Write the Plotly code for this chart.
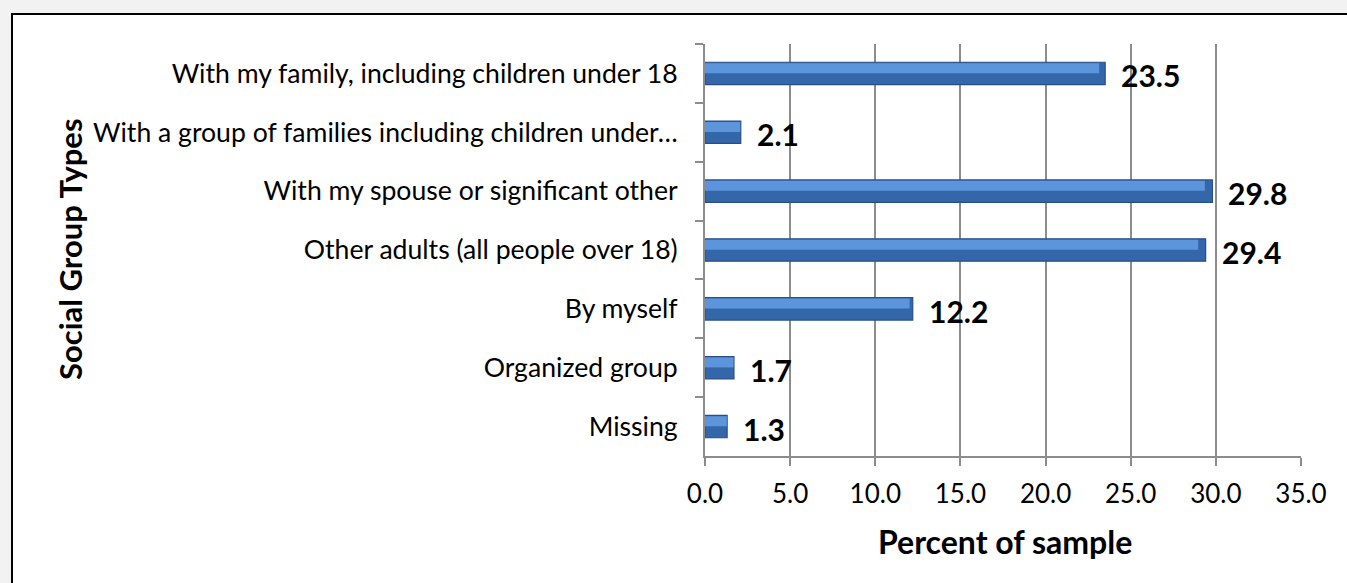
import plotly.graph_objects as go

# Survey responses: who the respondent was with
categories = [
    "With my family, including children under 18",
    "With a group of families including children under…",
    "With my spouse or significant other",
    "Other adults (all people over 18)",
    "By myself",
    "Organized group",
    "Missing",
]
percent = [23.5, 2.1, 29.8, 29.4, 12.2, 1.7, 1.3]
x_ticks = [0, 5, 10, 15, 20, 25, 30, 35]
x_tick_text = [f"{v:.1f}" for v in x_ticks]

W, H = 1347, 583
L, R, T, B = 705, 46, 44, 127
pw, ph = W - L - R, H - T - B


def px_x(p):
    return (p - L) / pw


def px_y(p):
    return (H - B - p) / ph


FONT = "Lato"

fig = go.Figure()

# main bar body
fig.add_trace(go.Bar(
    y=categories, x=percent, orientation="h",
    width=0.38,
    marker=dict(color="#3467AA", line=dict(color="#284F85", width=1.2)),
    hoverinfo="skip", showlegend=False,
))
# lighter bevel highlight on the upper part of each bar
fig.add_trace(go.Bar(
    y=categories, x=[v * 0.985 for v in percent], orientation="h",
    width=0.17, offset=-0.175,
    marker=dict(color="#5C95DB", line=dict(width=0)),
    hoverinfo="skip", showlegend=False,
))

# value labels to the right of each bar
for c, v in zip(categories, percent):
    fig.add_annotation(
        x=v, y=c, xref="x", yref="y", text=f"<b>{v:.1f}</b>",
        showarrow=False, xanchor="left", yanchor="middle", xshift=14, yshift=-2,
        font=dict(family=FONT, size=30, color="black"),
    )

# axis titles
fig.add_annotation(
    x=px_x(70), y=px_y(249), xref="paper", yref="paper",
    xanchor="center", yanchor="middle",
    text="<b>Social Group Types</b>", textangle=-90, showarrow=False,
    font=dict(family=FONT, size=31, color="black"),
)
fig.add_annotation(
    x=px_x(1005), y=px_y(541), xref="paper", yref="paper",
    xanchor="center", yanchor="middle",
    text="<b>Percent of sample</b>", showarrow=False,
    font=dict(family=FONT, size=32, color="black"),
)

# chart frame on the gray page
fig.add_shape(
    type="rect", xref="paper", yref="paper", layer="below",
    x0=px_x(12), x1=px_x(W + 20), y0=px_y(H + 20), y1=px_y(14),
    fillcolor="white", line=dict(color="black", width=2),
)

fig.update_layout(
    width=W, height=H,
    margin=dict(l=L, r=R, t=T, b=B, pad=0),
    paper_bgcolor="#f2f2f2", plot_bgcolor="rgba(0,0,0,0)",
    barmode="overlay", bargap=0.6,
    font=dict(family=FONT, size=26, color="black"),
    xaxis=dict(
        range=[0, 35], tickvals=x_ticks, ticktext=x_tick_text,
        showgrid=True, gridcolor="#8c8c8c", gridwidth=2,
        showline=True, linecolor="#8c8c8c", linewidth=2,
        ticks="outside", ticklen=8, tickwidth=2, tickcolor="#8c8c8c",
        tickfont=dict(family=FONT, size=26), ticklabelstandoff=6,
        zeroline=False, fixedrange=True,
    ),
    yaxis=dict(
        categoryorder="array", categoryarray=categories, autorange="reversed",
        showline=True, linecolor="#8c8c8c", linewidth=2,
        ticks="outside", tickson="boundaries", ticklen=8, tickwidth=2,
        tickcolor="#8c8c8c", showgrid=False,
        tickfont=dict(family=FONT, size=26.6), ticklabelstandoff=20,
        fixedrange=True,
    ),
)

fig.write_html("out.html")
